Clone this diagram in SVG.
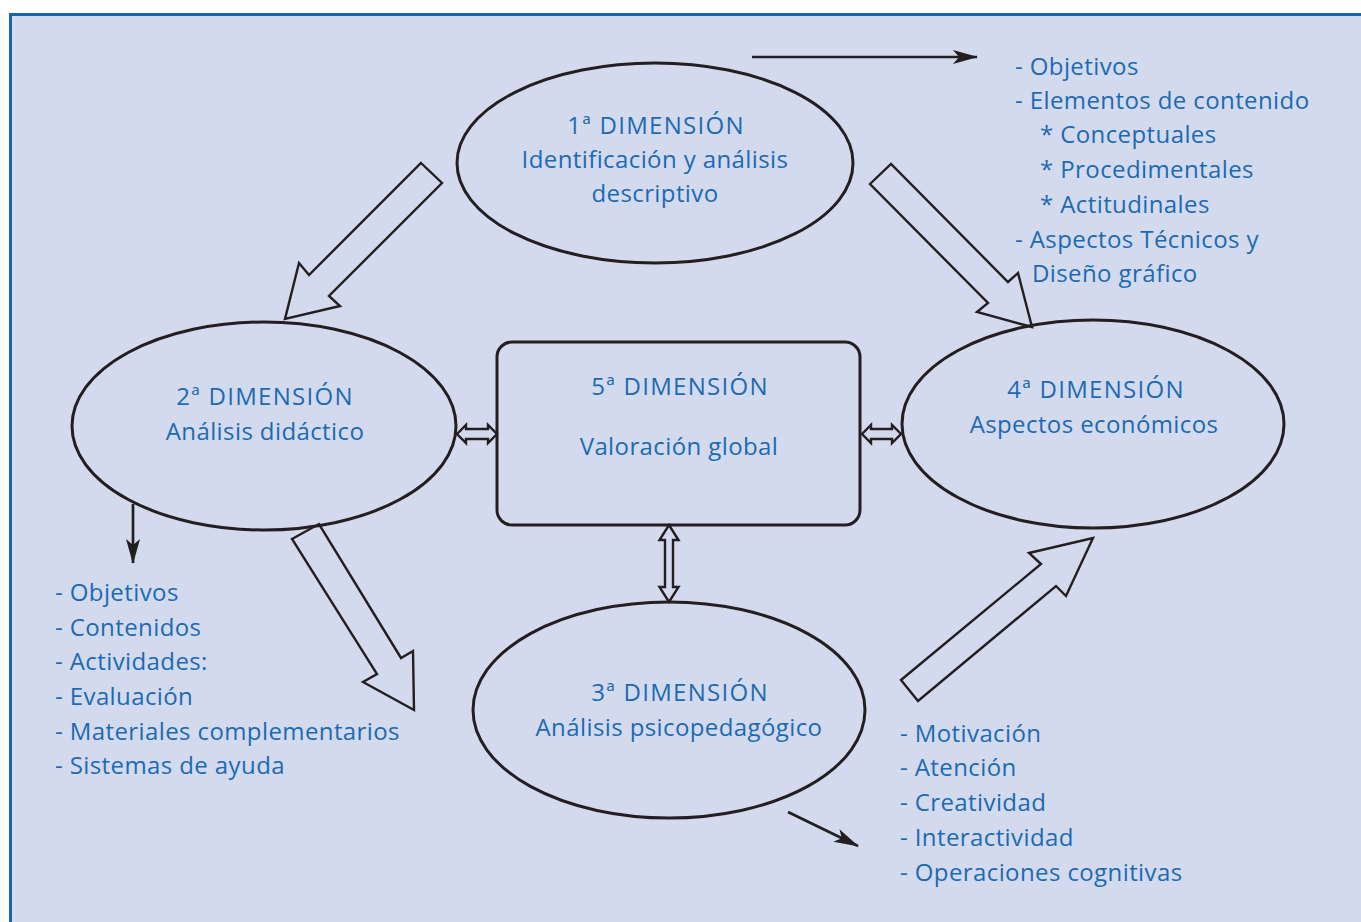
<svg xmlns="http://www.w3.org/2000/svg" width="1361" height="922" viewBox="0 0 1361 922">
  <defs>
    <style>
      .frame { fill: #d3daed; stroke: #1a63ad; stroke-width: 3; }
      .shape { fill: none; stroke: #231f20; stroke-width: 3; }
      .block { fill: none; stroke: #231f20; stroke-width: 2.4; stroke-linejoin: miter; }
      .line { fill: none; stroke: #231f20; stroke-width: 2.7; }
      .txt { font-family: "Open Sans", "Lato", sans-serif; font-size: 24px; letter-spacing: 0.4px; fill: #1c6ab4; }
      .head { letter-spacing: 1.3px; }
      .mid { text-anchor: middle; }
    </style>
    <marker id="head" viewBox="0 0 25 14" refX="24" refY="7" markerWidth="25" markerHeight="14" markerUnits="userSpaceOnUse" orient="auto">
      <path d="M0,0 L25,7 L0,14 L6,7 Z" fill="#231f20"/>
    </marker>
  </defs>

  <!-- background panel -->
  <rect class="frame" x="10.5" y="14.5" width="1370" height="930"/>

  <!-- nodes -->
  <g id="dim1">
    <ellipse class="shape" cx="655" cy="163" rx="198" ry="100"/>
    <text class="txt head mid" x="656" y="134">1ª DIMENSIÓN</text>
    <text class="txt mid" x="655" y="168">Identificación y análisis</text>
    <text class="txt mid" x="655" y="202">descriptivo</text>
  </g>
  <g id="dim2">
    <ellipse class="shape" cx="264" cy="426" rx="192" ry="104"/>
    <text class="txt head mid" x="265" y="405">2ª DIMENSIÓN</text>
    <text class="txt mid" x="265" y="440">Análisis didáctico</text>
  </g>
  <g id="dim5">
    <rect class="shape" x="497" y="342" width="363" height="183" rx="15"/>
    <text class="txt head mid" x="680" y="395">5ª DIMENSIÓN</text>
    <text class="txt mid" x="679" y="455">Valoración global</text>
  </g>
  <g id="dim4">
    <ellipse class="shape" cx="1093" cy="424" rx="191" ry="104"/>
    <text class="txt head mid" x="1096" y="398">4ª DIMENSIÓN</text>
    <text class="txt mid" x="1094" y="433">Aspectos económicos</text>
  </g>
  <g id="dim3">
    <ellipse class="shape" cx="669" cy="710" rx="196" ry="108"/>
    <text class="txt head mid" x="680" y="701">3ª DIMENSIÓN</text>
    <text class="txt mid" x="679" y="736">Análisis psicopedagógico</text>
  </g>

  <!-- item lists -->
  <g id="list1">
    <text class="txt" x="1015" y="75">- Objetivos</text>
    <text class="txt" x="1015" y="109">- Elementos de contenido</text>
    <text class="txt" x="1040" y="143">* Conceptuales</text>
    <text class="txt" x="1040" y="178">* Procedimentales</text>
    <text class="txt" x="1040" y="213">* Actitudinales</text>
    <text class="txt" x="1015" y="248">- Aspectos Técnicos y</text>
    <text class="txt" x="1032" y="282">Diseño gráfico</text>
  </g>
  <g id="list2">
    <text class="txt" x="55" y="601">- Objetivos</text>
    <text class="txt" x="55" y="636">- Contenidos</text>
    <text class="txt" x="55" y="670">- Actividades:</text>
    <text class="txt" x="55" y="705">- Evaluación</text>
    <text class="txt" x="55" y="740">- Materiales complementarios</text>
    <text class="txt" x="55" y="774">- Sistemas de ayuda</text>
  </g>
  <g id="list3">
    <text class="txt" x="900" y="742">- Motivación</text>
    <text class="txt" x="900" y="776">- Atención</text>
    <text class="txt" x="900" y="811">- Creatividad</text>
    <text class="txt" x="900" y="846">- Interactividad</text>
    <text class="txt" x="900" y="881">- Operaciones cognitivas</text>
  </g>

  <!-- connectors -->
  <g id="connectors">
    <!-- block arrows between dimensions -->
    <polygon class="block" points="421,163 442,183 329,296 340,306 285,319 299,263 309,275"/>
    <polygon class="block" points="870,184 891,164 1008,282 1018,273 1032,327 977,312 988,303"/>
    <polygon class="block" points="292,539 319,524 401,658 413,651 414,710 363,682 377,674"/>
    <polygon class="block" points="901,680 918,701 1056,586 1066,596 1093,538 1029,553 1041,564"/>
    <!-- two-way arrows around the central box -->
    <polygon class="block" stroke-width="2" points="457,434 466,425 466,429 488,429 488,425 497,434 488,443 488,439 466,439 466,443"/>
    <polygon class="block" stroke-width="2" points="862,434 871,425 871,429 892,429 892,425 901,434 892,443 892,439 871,439 871,443"/>
    <polygon class="block" stroke-width="2" points="669,525 678.5,540 673,540 673,587 678.5,587 669,602 659.5,587 665,587 665,540 659.5,540"/>
    <!-- thin pointers to item lists -->
    <line class="line" x1="752" y1="57" x2="977" y2="57" marker-end="url(#head)"/>
    <line class="line" x1="133" y1="504" x2="133" y2="563" marker-end="url(#head)"/>
    <line class="line" x1="788" y1="812" x2="858" y2="846" marker-end="url(#head)"/>
  </g>
</svg>
